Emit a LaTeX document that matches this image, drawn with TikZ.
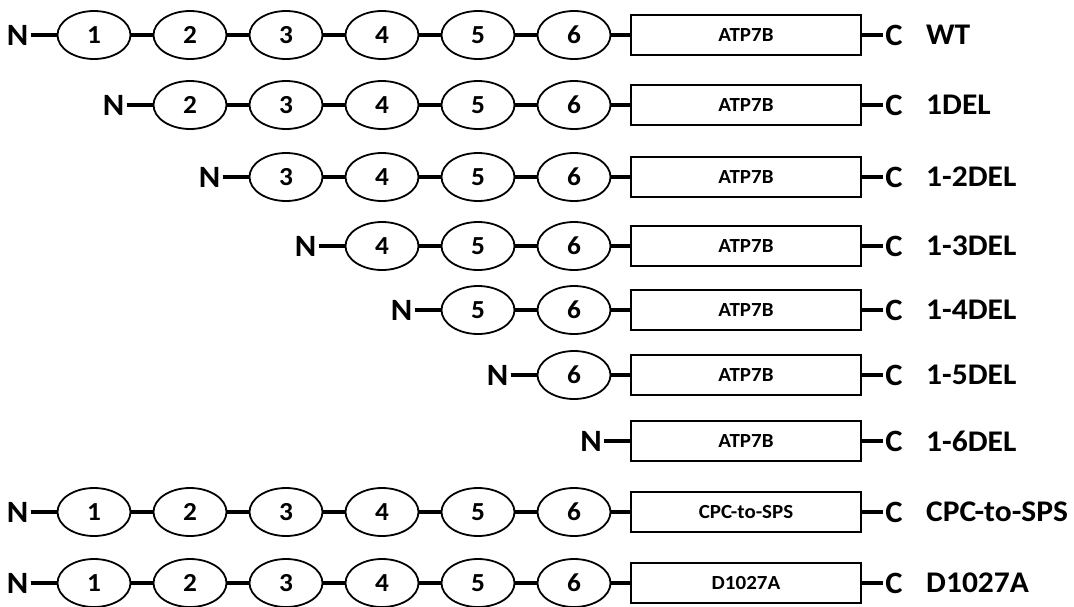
\documentclass[tikz,border=0pt]{standalone}
\usepackage{fontspec}
\setmainfont{Carlito}[FakeStretch=1.05]
\usetikzlibrary{shapes.geometric}
\begin{document}
\begin{tikzpicture}[x=1pt,y=-1pt,
  dom/.style={ellipse,draw,line width=1.8pt,minimum width=73pt,minimum height=48pt,inner sep=0pt,font=\fontsize{26}{26}\selectfont\bfseries},
  core/.style={rectangle,draw,line width=2.2pt,minimum width=230pt,minimum height=40pt,inner sep=0pt,font=\fontsize{20}{20}\selectfont\bfseries},
  term/.style={inner sep=0pt,font=\fontsize{31}{31}\selectfont\bfseries},
  lab/.style={anchor=west,inner sep=0pt,font=\fontsize{30}{30}\selectfont\bfseries},
  link/.style={line width=4pt}]
\useasboundingbox (0,0) rectangle (1074,606);
\foreach \y/\s/\lab/\txt [count=\r] in {35/1/WT/ATP7B, 105/2/1DEL/ATP7B, 177/3/1-2DEL/ATP7B, 246/4/1-3DEL/ATP7B, 310/5/1-4DEL/ATP7B, 375/6/1-5DEL/ATP7B, 441/7/1-6DEL/ATP7B, 512/1/CPC-to-SPS/CPC-to-SPS, 583/1/D1027A/D1027A}{
  \node[core] (k\r) at (746,\y) {\txt};
  \node[term] (c\r) at (894,\y) {C};
  \draw[link,shorten >=2pt] (k\r.east) -- (c\r.west);
  \node[lab] (l\r) at (926,\y) {\lab};
  \ifnum\s<7
    \foreach \i in {\s,...,6}{
      \node[dom] (e\r-\i) at ({94+96*(\i-1)},\y) {\i};
    }
    \foreach \i in {\s,...,6}{
      \pgfmathtruncatemacro{\nx}{\i+1}
      \ifnum\i<6
        \draw[link] (e\r-\i.east) -- (e\r-\nx.west);
      \else
        \draw[link] (e\r-\i.east) -- (k\r.west);
      \fi
    }
    \node[term,anchor=east] (n\r) at ([xshift=-28pt]e\r-\s.west) {N};
    \draw[link,shorten <=2pt] (n\r.east) -- (e\r-\s.west);
  \else
    \node[term,anchor=east] (n\r) at ([xshift=-28pt]k\r.west) {N};
    \draw[link,shorten <=2pt] (n\r.east) -- (k\r.west);
  \fi
}
\end{tikzpicture}
\end{document}
